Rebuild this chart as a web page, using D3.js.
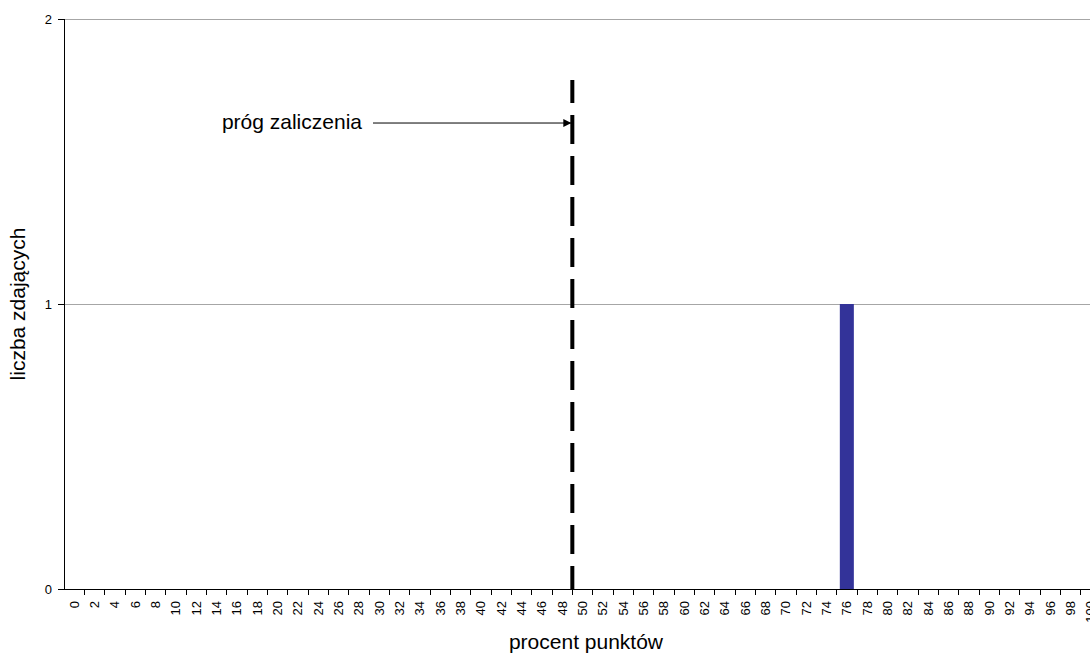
<!DOCTYPE html>
<html>
<head>
<meta charset="utf-8">
<script src="https://cdn.jsdelivr.net/npm/d3@7"></script>
<style>
  html, body { margin: 0; padding: 0; background: #fff; }
  svg { display: block; font-family: "Liberation Sans", Arial, sans-serif; }
</style>
</head>
<body>
<svg id="chart" width="1090" height="654"></svg>
<script>
// ---- data ----
const categories = [0,2,4,6,8,10,12,14,16,18,20,22,24,26,28,30,32,34,36,38,40,42,44,46,48,50,
  52,54,56,58,60,62,64,66,68,70,72,74,76,78,80,82,84,86,88,90,92,94,96,98,100];
const counts = [0,0,0,0,0,0,0,0,0,0,0,0,0,0,0,0,0,0,0,0,0,0,0,0,0,0,
  0,0,0,0,0,0,0,0,0,0,0,0,1,0,0,0,0,0,0,0,0,0,0,0,0];
const yTicks = [0, 1, 2];
const threshold = 49;          // próg zaliczenia (between 48 and 50)
const thresholdTop = 1.786;    // top of dashed line (in count units)
const arrowLevel = 1.635;      // arrow height (in count units)
const annotationText = "próg zaliczenia";
const xTitle = "procent punktów";
const yTitle = "liczba zdających";

// ---- layout ----
const svg = d3.select("#chart");
const plotLeft = 64, plotRight = 1101, plotTop = 19, plotBottom = 589;

const x = d3.scaleBand().domain(categories).range([plotLeft, plotRight]).paddingInner(0.31).paddingOuter(0.155);
const xb = d3.scaleBand().domain(categories).range([plotLeft, plotRight]).padding(0);
const xLin = d3.scaleLinear().domain([categories[0] - 1, categories[categories.length - 1] + 1]).range([plotLeft, plotRight]);
const y = d3.scaleLinear().domain([0, 2]).range([plotBottom, plotTop]);

// gridlines
svg.append("g").selectAll("line").data(yTicks.filter(d => d > 0)).join("line")
  .attr("x1", plotLeft).attr("x2", plotRight)
  .attr("y1", d => y(d)).attr("y2", d => y(d))
  .attr("stroke", "#a6a6a6").attr("stroke-width", 1).attr("shape-rendering", "crispEdges");

// bars
svg.append("g").selectAll("rect").data(categories.map((c, i) => ({c, v: counts[i]}))).join("rect")
  .attr("x", d => x(d.c)).attr("width", x.bandwidth())
  .attr("y", d => y(d.v)).attr("height", d => y(0) - y(d.v))
  .attr("fill", "#333399");

// y axis
const yAxis = svg.append("g").attr("transform", `translate(${plotLeft},0)`)
  .call(d3.axisLeft(y).tickValues(yTicks).tickFormat(d3.format("d")).tickSizeOuter(0).tickSize(6).tickPadding(6));
yAxis.attr("font-family", null);
yAxis.select(".domain").attr("stroke", "#000").attr("shape-rendering", "crispEdges");
yAxis.selectAll(".tick line").attr("stroke", "#000").attr("shape-rendering", "crispEdges");
yAxis.selectAll("text").attr("font-size", 13).attr("fill", "#000");

// x axis
const xAxis = svg.append("g").attr("transform", `translate(0,${plotBottom})`)
  .call(d3.axisBottom(xb).tickSize(0).tickSizeOuter(0).tickPadding(0));
xAxis.attr("font-family", null);
xAxis.select(".domain").attr("stroke", "#000").attr("shape-rendering", "crispEdges");
xAxis.selectAll(".tick line").remove();
xAxis.selectAll(".tick text")
  .attr("font-size", 13).attr("fill", "#000")
  .attr("text-anchor", "end").attr("dy", "0.35em")
  .attr("transform", "translate(0,12) rotate(-90)")
  .attr("x", 0).attr("y", 0);
// tick marks at category boundaries
svg.append("g").selectAll("line").data(categories).join("line")
  .attr("x1", d => xb(d) + xb.bandwidth()).attr("x2", d => xb(d) + xb.bandwidth())
  .attr("y1", plotBottom).attr("y2", plotBottom + 6)
  .attr("stroke", "#000").attr("shape-rendering", "crispEdges");

// threshold dashed line (drawn upward from the axis)
svg.append("line")
  .attr("x1", xLin(threshold)).attr("x2", xLin(threshold))
  .attr("y1", y(0)).attr("y2", y(thresholdTop))
  .attr("stroke", "#000").attr("stroke-width", 4)
  .attr("stroke-dasharray", "29,12").attr("stroke-dashoffset", 6);

// arrow
svg.append("defs").append("marker")
  .attr("id", "arrow").attr("viewBox", "0 0 10 10").attr("refX", 10).attr("refY", 5)
  .attr("markerWidth", 9).attr("markerHeight", 8).attr("markerUnits", "userSpaceOnUse")
  .attr("orient", "auto")
  .append("path").attr("d", "M0,0 L10,5 L0,10 Z").attr("fill", "#000");
svg.append("line")
  .attr("x1", 373).attr("x2", xLin(threshold) - 1)
  .attr("y1", y(arrowLevel)).attr("y2", y(arrowLevel))
  .attr("stroke", "#000").attr("stroke-width", 1)
  .attr("marker-end", "url(#arrow)");
svg.append("text")
  .attr("x", 362).attr("y", y(arrowLevel)).attr("dy", "0.3em")
  .attr("text-anchor", "end").attr("font-size", 21).attr("fill", "#000")
  .text(annotationText);

// axis titles
svg.append("text")
  .attr("x", 586).attr("y", 649)
  .attr("text-anchor", "middle").attr("font-size", 21).attr("fill", "#000")
  .text(xTitle);
svg.append("text")
  .attr("transform", `translate(25,${304}) rotate(-90)`)
  .attr("text-anchor", "middle").attr("font-size", 21).attr("fill", "#000")
  .text(yTitle);
</script>
</body>
</html>
